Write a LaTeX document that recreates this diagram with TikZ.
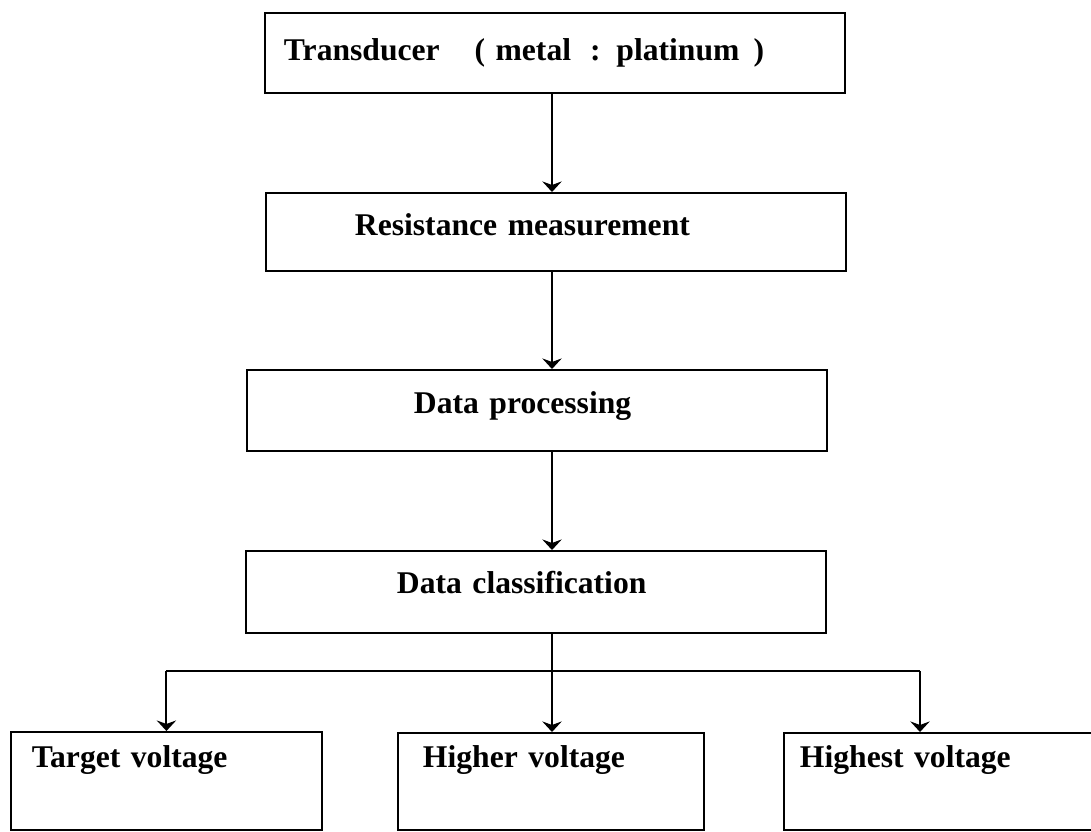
\documentclass[tikz,border=0pt]{standalone}
\usepackage{fontspec}
\setmainfont{Liberation Serif}
\usetikzlibrary{arrows.meta,calc}

\begin{document}
\begin{tikzpicture}[x=0.02cm, y=-0.02cm, ->, >={Stealth[length=6pt,width=11pt,inset=2pt]}, line width=1.1pt,
        font=\bfseries\fontsize{18}{21}\selectfont]
        \tikzstyle{block}=[draw=black, anchor=north west, align=left, inner ysep=0pt]
        \useasboundingbox (0,0) rectangle (1091,831);
        \coordinate (spine)  at (552,0);
        \coordinate (split)  at (552,671);
        \coordinate (rbranch) at (920,671);

        \node[block, inner xsep=0.38cm, text width=10.84cm, text height=0.96cm, text depth=0.64cm] (trans)   at (264,12)
            {Transducer\hspace{1.1em}( metal\hspace{0.6em}:\hspace{0.5em}platinum\hspace{0.45em})};
        \node[block, inner xsep=1.78cm, text width=8.04cm, text height=0.86cm, text depth=0.70cm]  (resist)  at (265,192) {Resistance measurement};
        \node[block, inner xsep=3.34cm, text width=4.92cm, text height=0.88cm, text depth=0.74cm]  (proc)    at (246,369) {Data processing};
        \node[block, inner xsep=3.02cm, text width=5.56cm, text height=0.86cm, text depth=0.78cm]  (classif) at (245,550) {Data classification};
        \node[block, inner xsep=0.42cm, text width=5.38cm, text height=0.72cm, text depth=1.24cm]  (target)  at (10,731)  {Target voltage};
        \node[block, inner xsep=0.50cm, text width=5.12cm, text height=0.70cm, text depth=1.24cm]  (higher)  at (397,732) {Higher voltage};
        \node[block, inner xsep=0.32cm, text width=5.56cm, text height=0.70cm, text depth=1.24cm]  (highest) at (783,732) {Highest voltage};

        \draw (trans.south -| spine) -- (resist.north -| spine);
        \draw (resist.south -| spine) -- (proc.north -| spine);
        \draw (proc.south -| spine) -- (classif.north -| spine);
        \draw[-] (classif.south -| spine) -- (split);
        \draw[-] (target.north |- split) -- (rbranch);
        \draw (target.north |- split) -- (target.north);
        \draw (split) -- (higher.north -| split);
        \draw (rbranch) -- (highest.north -| rbranch);
    \end{tikzpicture}
\end{document}
